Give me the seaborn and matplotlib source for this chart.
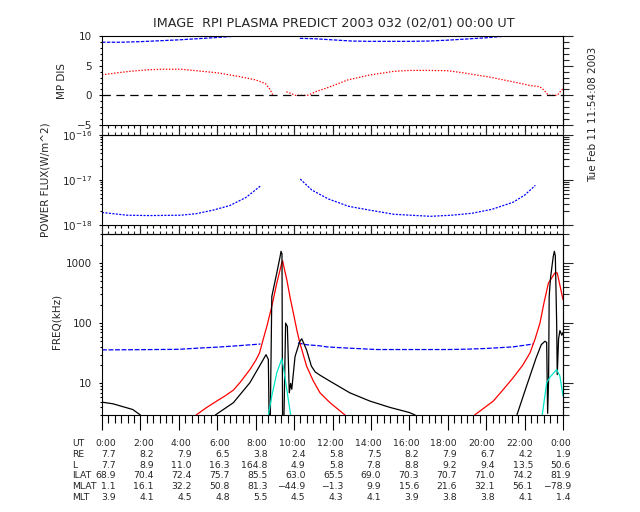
import numpy as np
import matplotlib
matplotlib.use("Agg")
import matplotlib.pyplot as plt
import matplotlib.ticker as mticker
import seaborn as sns

# ── DATA ──────────────────────────────────────────────────────
# panel 1: MP DIS
mp_hr_blue1 = [0, 1, 2, 3, 4, 5, 6, 7]
mp_blue1 = [8.95, 8.95, 9.05, 9.2, 9.35, 9.55, 9.75, 9.98]
mp_hr_blue2 = [10.3, 11, 12, 13, 14, 15, 16, 17, 18, 19, 20, 21]
mp_blue2 = [9.6, 9.55, 9.35, 9.15, 9.1, 9.1, 9.1, 9.15, 9.3, 9.5, 9.7, 9.98]
mp_hr_red1 = [0, 0.8, 1.6, 2.4, 3.1, 4.1, 4.9, 6.0, 7.1, 8.0, 8.5, 8.75, 8.9]
mp_red1 = [3.45, 3.8, 4.1, 4.3, 4.4, 4.4, 4.15, 3.8, 3.2, 2.6, 2.0, 1.0, 0.0]
mp_hr_red2 = [9.6, 9.85, 10.07, 10.7, 11.2, 11.8, 12.8, 13.9, 15.2, 16.0, 17.0,
              18.0, 18.8, 20.3, 21.8, 22.3, 22.8, 23.0, 23.25, 23.7, 23.93, 24.0]
mp_red2 = [0.6, 0.3, 0.0, 0.0, 0.7, 1.35, 2.6, 3.4, 4.05, 4.2, 4.2,
           4.15, 3.8, 3.0, 2.0, 1.65, 1.45, 0.9, 0.0, 0.0, 0.9, 1.1]

# panel 2: POWER FLUX
pf_hr_1 = [0, 1.3, 2.5, 4.1, 4.9, 5.8, 6.65, 7.5, 8.27]
pf_1 = [1.9e-18, 1.65e-18, 1.62e-18, 1.65e-18, 1.78e-18, 2.15e-18, 2.7e-18, 4.1e-18, 7.5e-18]
pf_hr_2 = [10.32, 10.92, 11.78, 12.84, 13.91, 15.2, 16.05, 17.1, 18.2, 19.25, 20.3, 21.4, 22.0, 22.56]
pf_2 = [1.05e-17, 6e-18, 3.8e-18, 2.6e-18, 2.15e-18, 1.73e-18, 1.65e-18, 1.56e-18,
        1.65e-18, 1.82e-18, 2.23e-18, 3.2e-18, 4.6e-18, 7.6e-18]

# panel 3: FREQ
fq_hr_blue1 = [0, 2, 4, 5, 6, 7, 8.25]
fq_blue1 = [36, 36.3, 36.8, 38.5, 40, 42, 45]
fq_hr_blue2 = [10.2, 10.6, 11.35, 11.7, 12.5, 14.3, 16, 18, 19, 20, 21.4, 22.45]
fq_blue2 = [47, 44, 42, 40.4, 39, 36.5, 36.5, 36.5, 37, 38, 40.4, 45]

fq_hr_red1 = [4.9, 5.4, 5.97, 6.4, 6.84, 7.2, 7.7, 8.0, 8.2, 8.4, 8.58, 8.84, 9.1,
              9.36, 9.4, 9.62, 9.8, 9.96, 10.15, 10.3, 10.65, 11.0, 11.35, 11.87, 12.65]
fq_red1 = [3, 3.9, 5.1, 6.2, 7.75, 10.5, 17, 24, 32, 55, 88, 190, 460,
           1000, 1080, 525, 260, 148, 75, 47, 19.4, 11, 7.0, 4.8, 3.0]
fq_hr_red2 = [19.4, 20.37, 20.9, 21.4, 21.9, 22.28, 22.55, 22.8, 23.0, 23.24, 23.58, 23.7, 24]
fq_red2 = [3, 5.1, 8, 12.4, 20, 32, 55, 100, 210, 460, 680, 680, 245]

fq_hr_blk1 = [0, 0.57, 1.6, 2.0]
fq_blk1 = [4.9, 4.6, 3.7, 3.0]
fq_hr_blk2 = [5.9, 6.84, 7.7, 8.2, 8.54, 8.66, 8.7, 8.76, 8.84, 9.1, 9.27, 9.32, 9.37,
              9.4, 9.47, 9.56, 9.65, 9.75, 9.82, 9.88, 10.05, 10.3, 10.4, 10.65, 10.9,
              11.1, 11.35, 11.87, 12.9, 13.95, 15.0, 16.0, 16.3]
fq_blk2 = [3, 4.8, 10.3, 19.4, 30, 25, 2.5, 2.5, 276, 680, 1260, 1550, 1400,
           2.5, 2.5, 100, 88, 7, 10, 8, 28, 50, 55, 36, 19.4,
           15.5, 13.7, 10.9, 7.0, 5.1, 4.0, 3.3, 3.0]
fq_hr_blk3 = [21.6, 22.1, 22.6, 22.87, 23.06, 23.15, 23.2, 23.25, 23.28, 23.35,
              23.49, 23.55, 23.6, 23.67, 23.7, 23.77, 23.84, 23.94, 24]
fq_blk3 = [3, 9.0, 26.5, 44, 50, 48, 3.2, 11.6, 276, 560,
           1260, 1550, 1300, 100, 14, 55, 75, 63, 70]

fq_hr_cyan1 = [8.66, 8.84, 9.1, 9.36, 9.44, 9.62, 9.82]
fq_cyan1 = [3, 6.2, 15, 25.6, 19, 8, 3]
fq_hr_cyan2 = [22.92, 23.15, 23.32, 23.67, 23.84, 24]
fq_cyan2 = [3, 10.3, 12.7, 17, 13.2, 6.2]

# table under the plot
ut_labels = ["0:00", "2:00", "4:00", "6:00", "8:00", "10:00", "12:00",
             "14:00", "16:00", "18:00", "20:00", "22:00", "0:00"]
re_vals = [7.7, 8.2, 7.9, 6.5, 3.8, 2.4, 5.8, 7.5, 8.2, 7.9, 6.7, 4.2, 1.9]
l_vals = [7.7, 8.9, 11.0, 16.3, 164.8, 4.9, 5.8, 7.8, 8.8, 9.2, 9.4, 13.5, 50.6]
ilat_vals = [68.9, 70.4, 72.4, 75.7, 85.5, 63.0, 65.5, 69.0, 70.3, 70.7, 71.0, 74.2, 81.9]
mlat_vals = [1.1, 16.1, 32.2, 50.8, 81.3, -44.9, -1.3, 9.9, 15.6, 21.6, 32.1, 56.1, -78.9]
mlt_vals = [3.9, 4.1, 4.5, 4.8, 5.5, 4.5, 4.3, 4.1, 3.9, 3.8, 3.8, 4.1, 1.4]

# ── STYLE ─────────────────────────────────────────────────────
sns.set_style("white")
plt.rcParams["font.family"] = ["DejaVu Sans"]
plt.rcParams["lines.scale_dashes"] = False
plt.rcParams["axes.linewidth"] = 0.8

BLUE = "#0000ff"
RED = "#ff0000"
CYAN = "#00e6c8"
W, H = 640, 512


def fx(px):
    return px / W


def fy(px):
    return 1 - px / H


def draw(ax, hrs, vals, color, ls="-", lw=0.9):
    sns.lineplot(x=hrs, y=vals, ax=ax, color=color, linestyle=ls, linewidth=lw,
                 estimator=None, sort=False, legend=False)


def y_locators(kind):
    if kind == "lin":
        return mticker.MultipleLocator(5), mticker.MultipleLocator(1)
    return (mticker.LogLocator(base=10, numticks=10),
            mticker.LogLocator(base=10, subs=np.arange(2, 10), numticks=20))


def style_axis(ax, kind, top_ticks, bottom_len=(5.8, 2.2)):
    ax.set_xlim(0, 24)
    ax.xaxis.set_major_locator(mticker.MultipleLocator(2))
    ax.xaxis.set_minor_locator(mticker.MultipleLocator(1 / 3))
    major, minor = y_locators(kind)
    ax.yaxis.set_major_locator(major)
    ax.yaxis.set_minor_locator(minor)
    ax.yaxis.set_minor_formatter(mticker.NullFormatter())
    ax.tick_params(axis="x", which="both", direction="out", bottom=True, top=False,
                   labelbottom=False, width=0.8, color="black")
    ax.tick_params(axis="x", which="major", length=bottom_len[0])
    ax.tick_params(axis="x", which="minor", length=bottom_len[1])
    ax.tick_params(axis="y", which="both", direction="out", left=True, right=False,
                   width=0.8, labelsize=7.5, pad=4.5, color="black")
    ax.tick_params(axis="y", which="major", length=2.5)
    ax.tick_params(axis="y", which="minor", length=1.5)
    ax.set_xlabel("")
    ax.set_ylabel("")
    for s in ax.spines.values():
        s.set_color("black")
    if top_ticks:
        sec = ax.secondary_xaxis("top")
        sec.xaxis.set_major_locator(mticker.MultipleLocator(2))
        sec.xaxis.set_minor_locator(mticker.MultipleLocator(1 / 3))
        sec.xaxis.set_major_formatter(mticker.NullFormatter())
        sec.tick_params(axis="x", which="both", direction="out", labeltop=False, width=0.8)
        sec.tick_params(axis="x", which="major", length=5.8)
        sec.tick_params(axis="x", which="minor", length=2.2)
    secy = ax.secondary_yaxis("right")
    major, minor = y_locators(kind)
    secy.yaxis.set_major_locator(major)
    secy.yaxis.set_minor_locator(minor)
    secy.yaxis.set_major_formatter(mticker.NullFormatter())
    secy.yaxis.set_minor_formatter(mticker.NullFormatter())
    secy.tick_params(axis="y", which="both", direction="out", labelright=False, width=0.8)
    secy.tick_params(axis="y", which="major", length=7.2)
    secy.tick_params(axis="y", which="minor", length=4.3)


fig = plt.figure(figsize=(6.4, 5.12), dpi=100, facecolor="white")
left, width = fx(102), fx(563) - fx(102)
ax1 = fig.add_axes([left, fy(125), width, fy(36) - fy(125)])
ax2 = fig.add_axes([left, fy(225), width, fy(135) - fy(225)])
ax3 = fig.add_axes([left, fy(415), width, fy(234) - fy(415)])

# ── PANEL 1: MP DIS ───────────────────────────────────────────
draw(ax1, mp_hr_blue1, mp_blue1, BLUE, (0, (2.5, 1)))
draw(ax1, mp_hr_blue2, mp_blue2, BLUE, (0, (2.5, 1)))
draw(ax1, mp_hr_red1, mp_red1, RED, (0, (1, 1.2)))
draw(ax1, mp_hr_red2, mp_red2, RED, (0, (1, 1.2)))
ax1.axhline(0, color="black", lw=0.9, ls=(0, (6, 4)))
ax1.set_ylim(-5, 10)
style_axis(ax1, "lin", top_ticks=False)

# ── PANEL 2: POWER FLUX ───────────────────────────────────────
ax2.set_yscale("log")
draw(ax2, pf_hr_1, pf_1, BLUE, (0, (1.5, 1)))
draw(ax2, pf_hr_2, pf_2, BLUE, (0, (1.5, 1)))
ax2.set_ylim(1e-18, 1e-16)
style_axis(ax2, "log", top_ticks=True)

# ── PANEL 3: FREQ ─────────────────────────────────────────────
ax3.set_yscale("log")
draw(ax3, fq_hr_blue1, fq_blue1, BLUE, (0, (3.5, 1.2)))
draw(ax3, fq_hr_blue2, fq_blue2, BLUE, (0, (3.5, 1.2)))
draw(ax3, fq_hr_red1, fq_red1, RED)
draw(ax3, fq_hr_red2, fq_red2, RED)
draw(ax3, fq_hr_blk1, fq_blk1, "black")
draw(ax3, fq_hr_blk2, fq_blk2, "black")
draw(ax3, fq_hr_blk3, fq_blk3, "black")
draw(ax3, fq_hr_cyan1, fq_cyan1, CYAN)
draw(ax3, fq_hr_cyan2, fq_cyan2, CYAN)
ax3.set_ylim(3, 3000)
style_axis(ax3, "log", top_ticks=True, bottom_len=(10.8, 5.8))
ax3.yaxis.set_major_formatter(mticker.FuncFormatter(lambda v, p: f"{v:g}"))

# ── TEXT ──────────────────────────────────────────────────────
fig.text(fx(334), fy(23), "IMAGE  RPI PLASMA PREDICT 2003 032 (02/01) 00:00 UT",
         ha="center", va="center", fontsize=9.2)
fig.text(fx(593), fy(114), "Tue Feb 11 11:54:08 2003", rotation=90,
         ha="center", va="center", fontsize=7.5)
fig.text(fx(62), fy(81), "MP DIS", rotation=90, ha="center", va="center", fontsize=7.5)
fig.text(fx(45), fy(180), "POWER FLUX(W/m^2)", rotation=90, ha="center", va="center",
         fontsize=7.5)
fig.text(fx(56), fy(321), "FREQ(kHz)", rotation=90, ha="center", va="center", fontsize=7.5)


def fmt(v):
    return f"{v:.1f}".replace("-", "\u2212")


rows = [
    ("UT", ut_labels),
    ("RE", [fmt(v) for v in re_vals]),
    ("L", [fmt(v) for v in l_vals]),
    ("ILAT", [fmt(v) for v in ilat_vals]),
    ("MLAT", [fmt(v) for v in mlat_vals]),
    ("MLT", [fmt(v) for v in mlt_vals]),
]
for i, (name, cells) in enumerate(rows):
    y = fy(444 + i * 10.6)
    fig.text(fx(72), y, name, ha="left", va="center", fontsize=6.7)
    for k, cell in enumerate(cells):
        fig.text(fx(116 + 37.9 * k), y, cell, ha="right", va="center", fontsize=6.7)

plt.savefig("out.png", dpi=100, facecolor="white")
